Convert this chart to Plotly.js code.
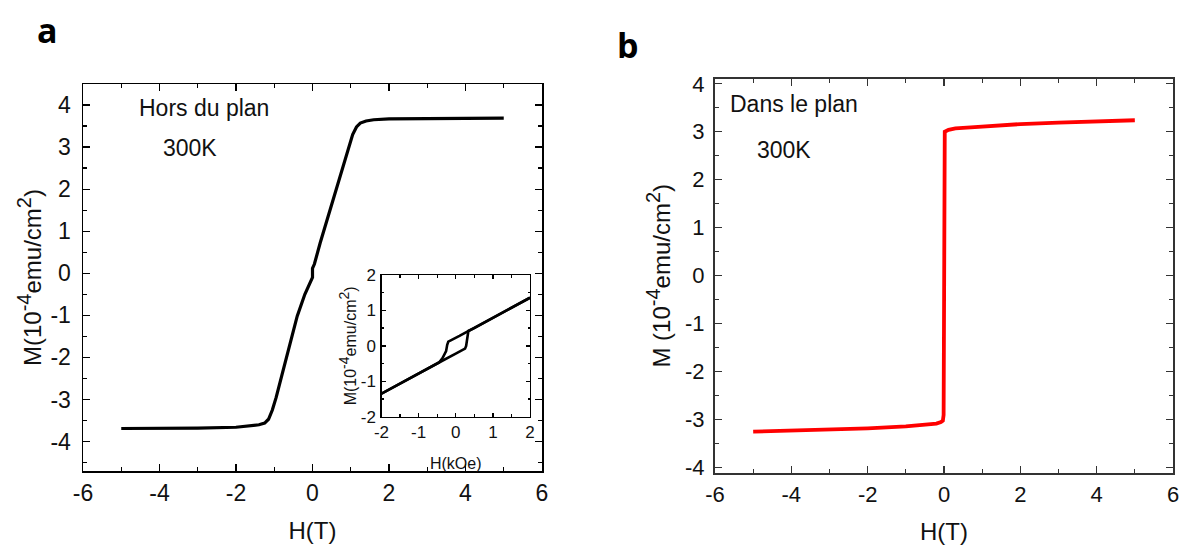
<!DOCTYPE html>
<html>
<head>
<meta charset="utf-8">
<script src="https://cdn.plot.ly/plotly-3.0.1.min.js"></script>
<style>html,body{margin:0;padding:0;background:#fff;}#chart{width:1182px;height:547px;}</style>
</head>
<body>
<div id="chart"></div>
<script>
// Panel a: out-of-plane loop (H in T, M in 1e-4 emu/cm^2)
const aH = [-5, -4, -3, -2, -1.6, -1.4, -1.25, -1.15, -1.05, -0.95, -0.8, -0.6, -0.4, -0.2, -0.05, 0.0, 0.0, 0.05, 0.2, 0.4, 0.6, 0.8, 0.95, 1.05, 1.15, 1.25, 1.4, 1.6, 2, 3, 4, 5];
const aM = [-3.69, -3.69, -3.68, -3.66, -3.63, -3.6, -3.56, -3.47, -3.25, -2.95, -2.42, -1.7, -1.02, -0.5, -0.2, -0.1, 0.12, 0.22, 0.72, 1.33, 1.95, 2.6, 3.05, 3.3, 3.48, 3.57, 3.62, 3.65, 3.67, 3.68, 3.69, 3.69];
// Inset: low-field loop (H in kOe)
const insH_down = [2, 1.5, 1, 0.6, 0.35, 0.1, -0.2, -0.23, -0.26, -0.3, -0.36, -0.45, -1, -1.5, -2];
const insM_down = [1.36, 1.07, 0.79, 0.57, 0.42, 0.28, 0.12, 0.03, -0.15, -0.25, -0.35, -0.47, -0.78, -1.06, -1.35];
const insH_up = [-2, -1.5, -1, -0.45, 0, 0.25, 0.28, 0.31, 0.34, 0.5, 1, 1.5, 2];
const insM_up = [-1.35, -1.06, -0.78, -0.47, -0.22, -0.08, 0.0, 0.2, 0.42, 0.5, 0.79, 1.07, 1.36];
// Panel b: in-plane loop
const bH = [-5, -4, -3, -2, -1, -0.5, -0.2, -0.08, -0.03, -0.01, 0.0, 0.02, 0.12, 0.3, 0.7, 1, 2, 3, 4, 5];
const bM = [-3.25, -3.23, -3.21, -3.18, -3.14, -3.11, -3.08, -3.05, -3.02, -2.9, 2.9, 3.0, 3.04, 3.07, 3.09, 3.11, 3.16, 3.19, 3.22, 3.24];
// Tick values and labels (plain hyphen minus as in the reference)
const mainTicksX = [-6, -4, -2, 0, 2, 4, 6];
const mainTicksXText = ['-6', '-4', '-2', '0', '2', '4', '6'];
const mainTicksY = [-4, -3, -2, -1, 0, 1, 2, 3, 4];
const mainTicksYText = ['-4', '-3', '-2', '-1', '0', '1', '2', '3', '4'];
const insetTicks = [-2, -1, 0, 1, 2];
const insetTicksText = ['-2', '-1', '0', '1', '2'];

const W = 1182, Hh = 547;
const px = v => v / W, py = v => 1 - v / Hh;
const F = '"Liberation Sans", Arial, sans-serif';
const mTitle = (sp, fs) => 'M' + sp + '(10<sup><span style="font-size:' + fs + 'px">-4</span></sup>emu/cm<sup><span style="font-size:' + fs + 'px">2</span></sup>)';

const traces = [
  {x: aH, y: aM, xaxis: 'x', yaxis: 'y', mode: 'lines', line: {color: '#000', width: 3.2}},
  {x: insH_down, y: insM_down, xaxis: 'x3', yaxis: 'y3', mode: 'lines', line: {color: '#000', width: 2.6}},
  {x: insH_up, y: insM_up, xaxis: 'x3', yaxis: 'y3', mode: 'lines', line: {color: '#000', width: 2.6}},
  {x: bH, y: bM, xaxis: 'x2', yaxis: 'y2', mode: 'lines', line: {color: '#ff0000', width: 3.8}}
];

function ax(opts) {
  return Object.assign({
    showgrid: false, zeroline: false, showline: true, mirror: 'allticks',
    linecolor: '#000', linewidth: 1.5, ticks: 'inside', ticklen: 7, tickwidth: 1.3, tickcolor: '#000',
    tickmode: 'array',
    tickfont: {family: F, size: 23, color: '#111'}, fixedrange: true, automargin: false
  }, opts);
}

const layout = {
  width: W, height: Hh,
  margin: {l: 0, r: 0, t: 0, b: 0},
  paper_bgcolor: '#fff', plot_bgcolor: 'rgba(0,0,0,0)',
  showlegend: false,
  font: {family: F, color: '#111'},
  xaxis: ax({domain: [px(83), px(542)], range: [-6, 6], tickvals: mainTicksX, ticktext: mainTicksXText, anchor: 'y',
    minor: {dtick: 1, ticklen: 4, ticks: 'inside', tickcolor: '#000'},
    ticklabelstandoff: 1,
    title: {text: 'H(T)', font: {family: F, size: 24, color: '#111'}, standoff: 17}}),
  yaxis: ax({domain: [py(471), py(84)], range: [-4.7, 4.5], tickvals: mainTicksY, ticktext: mainTicksYText, anchor: 'x',
    minor: {dtick: 0.5, ticklen: 4, ticks: 'inside', tickcolor: '#000'},
    ticklabelstandoff: 6,
    title: {text: mTitle('', 20), font: {family: F, size: 24, color: '#111'}, standoff: 2}}),
  xaxis2: ax({domain: [px(715), px(1173)], range: [-6, 6], tickvals: mainTicksX, ticktext: mainTicksXText, anchor: 'y2',
    linecolor: '#333', linewidth: 2, tickcolor: '#333',
    minor: {dtick: 1, ticklen: 4, ticks: 'inside', tickcolor: '#333'},
    tickfont: {family: F, size: 22, color: '#111'}, ticklabelstandoff: 1,
    title: {text: 'H(T)', font: {family: F, size: 24, color: '#111'}, standoff: 17}}),
  yaxis2: ax({domain: [py(472.5), py(79)], range: [-4.1, 4.1], tickvals: mainTicksY, ticktext: mainTicksYText, anchor: 'x2',
    linecolor: '#333', linewidth: 2, tickcolor: '#333',
    minor: {dtick: 0.5, ticklen: 4, ticks: 'inside', tickcolor: '#333'},
    tickfont: {family: F, size: 22, color: '#111'}, ticklabelstandoff: 4,
    title: {text: mTitle(' ', 20), font: {family: F, size: 24, color: '#111'}, standoff: 8}}),
  xaxis3: ax({domain: [px(381.5), px(530)], range: [-2, 2], tickvals: insetTicks, ticktext: insetTicksText, anchor: 'y3',
    ticklen: 4, linewidth: 1.2,
    minor: {dtick: 0.5, ticklen: 2.5, ticks: 'inside', tickcolor: '#000'},
    tickfont: {family: F, size: 17, color: '#111'}, ticklabelstandoff: 0,
    title: {text: 'H(kOe)', font: {family: F, size: 16, color: '#111'}, standoff: 16}}),
  yaxis3: ax({domain: [py(416.7), py(275)], range: [-2, 2], tickvals: insetTicks, ticktext: insetTicksText, anchor: 'x3',
    ticklen: 4, linewidth: 1.2,
    minor: {dtick: 0.5, ticklen: 2.5, ticks: 'inside', tickcolor: '#000'},
    tickfont: {family: F, size: 17, color: '#111'}, ticklabelstandoff: 1,
    title: {text: mTitle('', 14), font: {family: F, size: 16, color: '#111'}, standoff: 0}}),
  shapes: [
    {type: 'rect', xref: 'paper', yref: 'paper', x0: px(381.5), x1: px(530), y0: py(416.7), y1: py(275),
     fillcolor: '#fff', line: {width: 0}, layer: 'below'}
  ],
  annotations: [
    {text: '<b>a</b>', xref: 'paper', yref: 'paper', x: px(47), y: py(30), xanchor: 'center', yanchor: 'middle', showarrow: false,
     font: {family: '"Open Sans", sans-serif', size: 34, color: '#000'}},
    {text: '<b>b</b>', xref: 'paper', yref: 'paper', x: px(628), y: py(45), xanchor: 'center', yanchor: 'middle', showarrow: false,
     font: {family: '"Open Sans", sans-serif', size: 34, color: '#000'}},
    {text: 'Hors du plan', xref: 'paper', yref: 'paper', x: px(137), y: py(108), xanchor: 'left', yanchor: 'middle', showarrow: false,
     font: {family: F, size: 23, color: '#111'}},
    {text: '300K', xref: 'paper', yref: 'paper', x: px(161), y: py(148), xanchor: 'left', yanchor: 'middle', showarrow: false,
     font: {family: F, size: 23, color: '#111'}},
    {text: 'Dans le plan', xref: 'paper', yref: 'paper', x: px(728), y: py(104), xanchor: 'left', yanchor: 'middle', showarrow: false,
     font: {family: F, size: 23, color: '#111'}},
    {text: '300K', xref: 'paper', yref: 'paper', x: px(755), y: py(150), xanchor: 'left', yanchor: 'middle', showarrow: false,
     font: {family: F, size: 23, color: '#111'}}
  ]
};

Plotly.newPlot('chart', traces, layout, {staticPlot: true, displayModeBar: false});
</script>
</body>
</html>
